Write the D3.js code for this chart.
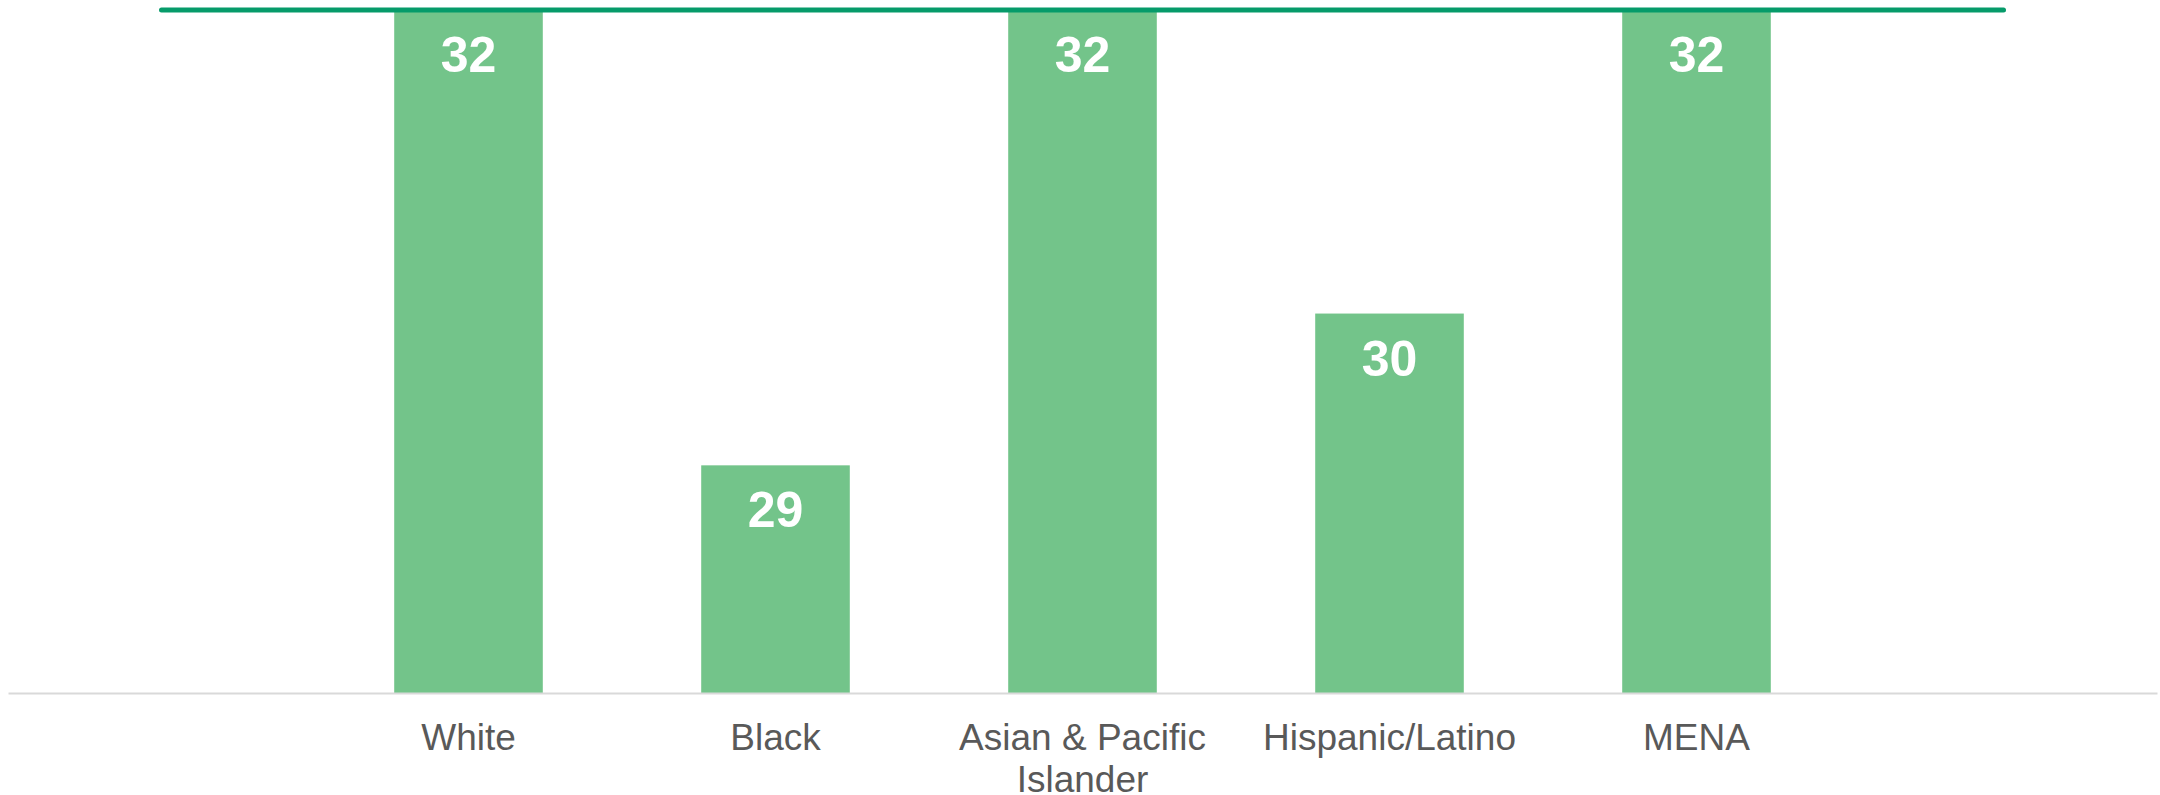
<!DOCTYPE html>
<html>
<head>
<meta charset="utf-8">
<script src="https://cdn.jsdelivr.net/npm/d3@7.9.0/dist/d3.min.js"></script>
<style>
  html, body { margin: 0; padding: 0; background: #fff; }
  svg { display: block; }
</style>
</head>
<body>
<svg id="chart" width="2160" height="795"></svg>
<script>
// chart data
const categories = ['White', 'Black', 'Asian & Pacific Islander', 'Hispanic/Latino', 'MENA'];
const values = [32, 29, 32, 30, 32];
const valueLabels = ['32', '29', '32', '30', '32'];
const referenceValue = 32;
const yDomain = [27.5, 32];

const svg = d3.select('#chart');

// scales
const x = d3.scaleBand()
  .domain(categories)
  .range([8, 2157])
  .paddingInner(0.516)
  .paddingOuter(1.258);

const y = d3.scaleLinear().domain(yDomain).range([693, 10]);

// bars
svg.append('g').selectAll('rect')
  .data(categories)
  .join('rect')
  .attr('x', d => x(d))
  .attr('y', (d, i) => y(values[i]))
  .attr('width', x.bandwidth())
  .attr('height', (d, i) => y(yDomain[0]) - y(values[i]))
  .attr('fill', '#73c48a');

// baseline axis
const xAxis = svg.append('g')
  .attr('transform', `translate(0,${y(yDomain[0])})`)
  .call(d3.axisBottom(x).tickSize(0).tickPadding(0).tickFormat(''));
xAxis.select('.domain').attr('stroke', '#d9d9d9').attr('stroke-width', 2);

// category labels, wrapped to the band step
const maxW = x.step() * 0.94;
const labels = svg.append('g')
  .attr('font-family', '"Liberation Sans", Arial, sans-serif')
  .attr('font-size', 37)
  .attr('fill', '#595959')
  .attr('text-anchor', 'middle');

categories.forEach(c => {
  const cx = x(c) + x.bandwidth() / 2;
  const t = labels.append('text').attr('x', cx).attr('y', 750);
  let line = [];
  let tspan = t.append('tspan').attr('x', cx).attr('dy', 0);
  c.split(' ').forEach(w => {
    line.push(w);
    tspan.text(line.join(' '));
    if (tspan.node().getComputedTextLength() > maxW && line.length > 1) {
      line.pop();
      tspan.text(line.join(' '));
      line = [w];
      tspan = t.append('tspan').attr('x', cx).attr('dy', 42).text(w);
    }
  });
});

// value labels inside bars
svg.append('g')
  .attr('font-family', '"Liberation Sans", Arial, sans-serif')
  .attr('font-size', 50)
  .attr('font-weight', 'bold')
  .attr('fill', '#ffffff')
  .attr('text-anchor', 'middle')
  .selectAll('text')
  .data(categories)
  .join('text')
  .attr('x', d => x(d) + x.bandwidth() / 2)
  .attr('y', (d, i) => y(values[i]) + 62)
  .text((d, i) => valueLabels[i]);

// reference line
svg.append('line')
  .attr('x1', x.range()[0] + x.step() / 2)
  .attr('x2', x.range()[1] - x.step() / 2)
  .attr('y1', y(referenceValue))
  .attr('y2', y(referenceValue))
  .attr('stroke', '#069b6a')
  .attr('stroke-width', 5)
  .attr('stroke-linecap', 'round');
</script>
</body>
</html>
